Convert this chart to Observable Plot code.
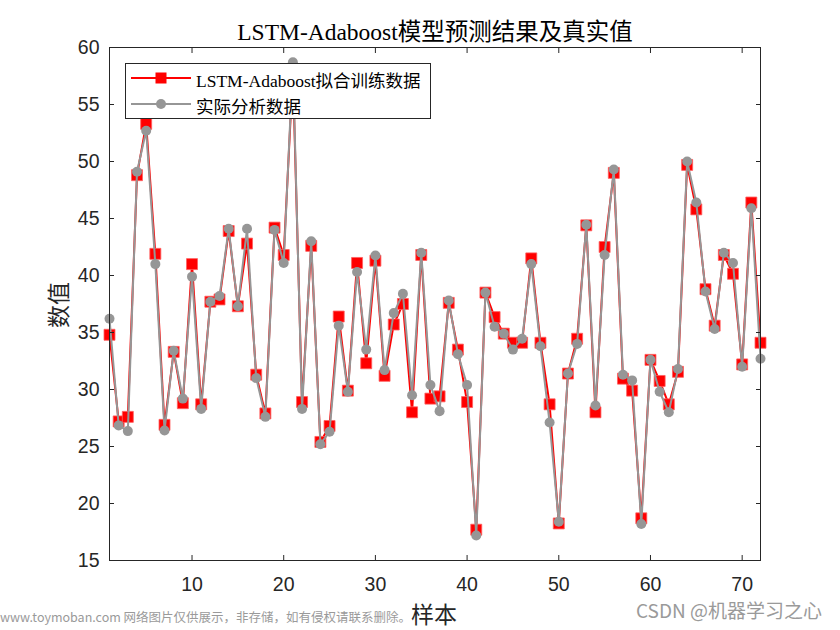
<!DOCTYPE html>
<html>
<head>
<meta charset="utf-8">
<script src="https://cdn.jsdelivr.net/npm/d3@7"></script>
<script src="https://cdn.jsdelivr.net/npm/@observablehq/plot@0.6"></script>
<style>
  body { margin: 0; background: #fff; }
  #wrap { position: relative; width: 840px; height: 630px; overflow: hidden; background:#fff; }
  .abs { position: absolute; white-space: nowrap; }
  #title { left: 0; width: 870px; top: 13px; text-align: center; font: 23.5px "Liberation Serif", "Noto Sans CJK SC", serif; color: #000; }
  #xlab { left: 0; width: 868px; top: 596px; text-align: center; font: 23px "Noto Sans CJK SC", sans-serif; color: #262626; }
  #ylab { left: 57px; top: 305px; transform: translate(-50%, -50%) rotate(-90deg); font: 23px "Noto Sans CJK SC", sans-serif; color: #262626; }
  #legend { left: 125px; top: 63px; width: 304px; height: 54px; border: 1px solid #262626; background: #fff; }
  .lrow { position: absolute; left: 0; height: 24px; font: 17.5px "Liberation Serif", "Noto Sans CJK SC", serif; color: #000; }
  .lrow svg { position: absolute; left: 5px; top: 0; }
  .lrow span { position: absolute; left: 70px; top: 1px; }
  #wm1 { left: 0; top: 609px; font: 12.5px/16px "Noto Sans CJK SC", sans-serif; color: #9a9a9a; }
  #wm2 { left: 636px; top: 596px; font: 19px "Noto Sans CJK SC", sans-serif; color: #9a9a9a; }
</style>
</head>
<body>
<div id="wrap"></div>
<script>
const sampleIdx = d3.range(1, 73);
const predicted = [34.8, 27.2, 27.6, 48.8, 53.3, 41.9, 26.9, 33.3, 28.8, 41.0,
  28.7, 37.7, 37.9, 43.9, 37.3, 42.8, 31.3, 27.9, 44.2, 41.8,
  57.8, 28.9, 42.6, 25.4, 26.8, 36.4, 29.9, 41.1, 32.3, 41.3,
  31.2, 35.7, 37.5, 28.0, 41.8, 29.2, 29.4, 37.6, 33.5, 28.9,
  17.7, 38.5, 36.35, 34.9, 34.1, 34.1, 41.5, 34.1, 28.7, 18.25,
  31.4, 34.45, 44.4, 28.0, 42.5, 49.0, 30.95, 29.9, 18.7, 32.6,
  30.75, 28.7, 31.55, 49.7, 45.8, 38.8, 35.6, 41.8, 40.15, 32.2,
  46.4, 34.1];
const actual = [36.2, 26.85, 26.35, 49.1, 52.7, 41.0, 26.4, 33.4, 29.2, 39.9,
  28.3, 37.7, 38.2, 44.1, 37.3, 44.1, 31.0, 27.6, 44.0, 41.1,
  58.7, 28.3, 43.0, 25.2, 26.3, 35.6, 29.8, 40.3, 33.5, 41.75,
  31.7, 36.7, 38.4, 29.5, 42.0, 30.4, 28.1, 37.8, 33.1, 30.4,
  17.2, 38.5, 35.5, 34.9, 33.5, 34.45, 41.0, 33.8, 27.1, 18.4,
  31.4, 34.0, 44.45, 28.6, 41.8, 49.3, 31.3, 30.8, 18.2, 32.6,
  29.8, 28.0, 31.8, 50.0, 46.4, 38.6, 35.3, 42.0, 41.1, 32.0,
  45.9, 32.7];
const xTicks = [10, 20, 30, 40, 50, 60, 70];
const yTicks = [15, 20, 25, 30, 35, 40, 45, 50, 55, 60];
const titleText = "LSTM-Adaboost模型预测结果及真实值";
const xLabel = "样本";
const yLabel = "数值";
const seriesNames = ["LSTM-Adaboost拟合训练数据", "实际分析数据"];

const predData = sampleIdx.map((x, i) => ({x, y: predicted[i]}));
const actData = sampleIdx.map((x, i) => ({x, y: actual[i]}));

const RED = "#ff0000", GRAY = "#969696", AX = "#262626";

const chart = Plot.plot({
  width: 840, height: 630,
  marginTop: 47, marginRight: 80, marginBottom: 70, marginLeft: 109,
  style: {fontFamily: "'Liberation Sans', Arial, sans-serif", fontSize: "19.5px", color: AX, background: "#fff"},
  x: {domain: [1, 72], ticks: xTicks},
  y: {domain: [15, 60], ticks: yTicks},
  marks: [
    Plot.line(predData, {x: "x", y: "y", stroke: RED, strokeWidth: 2}),
    Plot.dot(predData, {x: "x", y: "y", symbol: "square", r: 6.2, fill: RED, stroke: "#ff6060", strokeWidth: 0.8}),
    Plot.line(actData, {x: "x", y: "y", stroke: GRAY, strokeWidth: 2}),
    Plot.dot(actData, {x: "x", y: "y", symbol: "circle", r: 5, fill: GRAY, stroke: "none"}),
    Plot.frame({stroke: AX, strokeWidth: 1}),
    Plot.axisX({anchor: "bottom", ticks: xTicks, tickSize: -5, tickPadding: 22, label: null, stroke: AX, fill: AX, fontSize: 19.5}),
    Plot.axisX({anchor: "top", ticks: xTicks, tickSize: -5, tickFormat: () => "", label: null, stroke: AX}),
    Plot.axisY({anchor: "left", ticks: yTicks, tickSize: -5, tickPadding: 15, label: null, stroke: AX, fill: AX, fontSize: 19.5}),
    Plot.axisY({anchor: "right", ticks: yTicks, tickSize: -5, tickFormat: () => "", label: null, stroke: AX})
  ]
});

const wrap = document.getElementById("wrap");
wrap.appendChild(chart);

function addDiv(id, text) {
  const d = document.createElement("div");
  d.id = id; d.className = "abs"; d.textContent = text;
  wrap.appendChild(d);
  return d;
}
addDiv("title", titleText);
addDiv("xlab", xLabel);
addDiv("ylab", yLabel);

const leg = document.createElement("div");
leg.id = "legend"; leg.className = "abs";
const svgNS = "http://www.w3.org/2000/svg";
seriesNames.forEach((name, i) => {
  const row = document.createElement("div");
  row.className = "lrow";
  row.style.top = (2 + i * 26) + "px";
  row.style.width = "300px";
  const s = document.createElementNS(svgNS, "svg");
  s.setAttribute("width", "60"); s.setAttribute("height", "24");
  const ln = document.createElementNS(svgNS, "line");
  ln.setAttribute("x1", 0); ln.setAttribute("x2", 60); ln.setAttribute("y1", 12); ln.setAttribute("y2", 12);
  ln.setAttribute("stroke", i === 0 ? RED : GRAY); ln.setAttribute("stroke-width", 2);
  s.appendChild(ln);
  if (i === 0) {
    const r = document.createElementNS(svgNS, "rect");
    r.setAttribute("x", 24.5); r.setAttribute("y", 6.5); r.setAttribute("width", 11); r.setAttribute("height", 11);
    r.setAttribute("fill", RED);
    s.appendChild(r);
  } else {
    const c = document.createElementNS(svgNS, "circle");
    c.setAttribute("cx", 30); c.setAttribute("cy", 12); c.setAttribute("r", 5);
    c.setAttribute("fill", GRAY);
    s.appendChild(c);
  }
  row.appendChild(s);
  const sp = document.createElement("span");
  sp.textContent = name;
  row.appendChild(sp);
  leg.appendChild(row);
});
wrap.appendChild(leg);

addDiv("wm1", "www.toymoban.com 网络图片仅供展示，非存储，如有侵权请联系删除。");
addDiv("wm2", "CSDN @机器学习之心");
</script>
</body>
</html>
